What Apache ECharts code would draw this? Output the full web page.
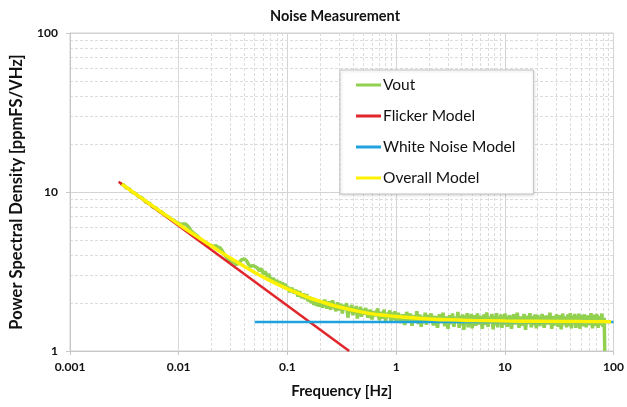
<!DOCTYPE html>
<html>
<head>
<meta charset="utf-8">
<script src="https://cdn.jsdelivr.net/npm/echarts@6/dist/echarts.min.js"></script>
<style>
  html, body { margin: 0; padding: 0; background: #fff; }
  #chart { width: 627px; height: 407px; }
</style>
</head>
<body>
<div id="chart"></div>
<script>
const voutFreq = [
  0.0029, 0.0031, 0.0033, 0.0035, 0.0037, 0.004, 0.0043, 0.0046, 0.005, 0.0054,
  0.0058, 0.0062, 0.0066, 0.007, 0.0075, 0.008, 0.0085, 0.009, 0.0095, 0.01,
  0.0105, 0.011, 0.0115, 0.012, 0.0125, 0.013, 0.014, 0.015, 0.016, 0.017,
  0.018, 0.019, 0.02, 0.021, 0.022, 0.023, 0.024, 0.025, 0.026, 0.027,
  0.028, 0.029, 0.03, 0.032, 0.034, 0.036, 0.038, 0.04, 0.042, 0.044,
  0.046, 0.048, 0.05,
  0.0525, 0.055, 0.0575, 0.06, 0.0625, 0.065, 0.0675, 0.07, 0.0725, 0.075,
  0.0775, 0.08, 0.0825, 0.085, 0.0875, 0.09, 0.0925, 0.095, 0.0975, 0.1,
  0.105, 0.11, 0.115, 0.12, 0.125, 0.13, 0.135, 0.14, 0.145, 0.15,
  0.155, 0.16, 0.165, 0.17, 0.175, 0.18, 0.185, 0.19, 0.195, 0.2,
  0.21, 0.22, 0.23, 0.24, 0.25, 0.26, 0.27, 0.28, 0.29, 0.3,
  0.31, 0.32, 0.33, 0.34, 0.35, 0.36, 0.37, 0.38, 0.39, 0.4,
  0.41, 0.42, 0.43, 0.44, 0.45, 0.46, 0.47, 0.48, 0.49, 0.5,
  0.525, 0.55, 0.575, 0.6, 0.625, 0.65, 0.675, 0.7, 0.725, 0.75,
  0.775, 0.8, 0.825, 0.85, 0.875, 0.9, 0.925, 0.95, 0.975, 1.0,
  1.05, 1.1, 1.15, 1.2, 1.25, 1.3, 1.35, 1.4, 1.45, 1.5,
  1.55, 1.6, 1.65, 1.7, 1.75, 1.8, 1.85, 1.9, 1.95, 2.0,
  2.1, 2.2, 2.3, 2.4, 2.5, 2.6, 2.7, 2.8, 2.9, 3.0,
  3.1, 3.2, 3.3, 3.4, 3.5, 3.6, 3.7, 3.8, 3.9, 4.0,
  4.1, 4.2, 4.3, 4.4, 4.5, 4.6, 4.7, 4.8, 4.9, 5.0,
  5.2, 5.4, 5.6, 5.8, 6.0, 6.2, 6.4, 6.6, 6.8, 7.0,
  7.2, 7.4, 7.6, 7.8, 8.0, 8.2, 8.4, 8.6, 8.8, 9.0,
  9.2, 9.4, 9.6, 9.8, 10,
  10.5, 11, 11.5, 12, 12.5, 13, 13.5, 14, 14.5, 15,
  15.5, 16, 16.5, 17, 17.5, 18, 18.5, 19, 19.5, 20,
  21, 22, 23, 24, 25, 26, 27, 28, 29, 30,
  31, 32, 33, 34, 35, 36, 37, 38, 39, 40,
  41, 42, 43, 44, 45, 46, 47, 48, 49, 50,
  52, 54, 56, 58, 60, 62, 64, 66, 68, 70,
  72, 74, 76, 78, 80, 82, 83
];
const voutPsd = [
  11.3, 11.1, 10.6, 10.5, 10.0, 9.8, 9.3, 9.2, 8.6, 8.5,
  8.0, 7.95, 7.55, 7.5, 7.1, 7.0, 6.7, 6.65, 6.45, 6.35,
  6.25, 6.3, 6.3, 6.15, 5.95, 5.7, 5.45, 5.25, 5.0, 4.85,
  4.7, 4.6, 4.6, 4.55, 4.6, 4.5, 4.45, 4.3, 4.1, 3.95,
  3.85, 3.75, 3.7, 3.6, 3.5, 3.6, 3.75, 3.8, 3.7, 3.5,
  3.4, 3.45, 3.4,
  3.35, 3.2, 3.3, 3.05, 3.15, 2.95, 3.05, 2.8, 2.75, 2.85,
  2.65, 2.8, 2.6, 2.75, 2.55, 2.7, 2.5, 2.65, 2.45, 2.55,
  2.35, 2.5, 2.3, 2.42, 2.2, 2.38, 2.15, 2.3, 2.12, 2.28,
  2.05, 2.2, 2.0, 2.18, 1.95, 2.12, 1.92, 2.1, 1.9, 2.08,
  1.88, 2.1, 1.85, 2.05, 1.82, 2.08, 1.9, 1.78, 2.02, 1.8,
  1.98, 1.72, 1.95, 1.82, 2.0, 1.62, 1.9, 1.75, 1.95, 1.68,
  1.88, 1.72, 1.92, 1.6, 1.85, 1.7, 1.9, 1.64, 1.84, 1.7,
  1.86, 1.62, 1.82, 1.58, 1.78, 1.66, 1.85, 1.56, 1.76, 1.6,
  1.82, 1.55, 1.74, 1.62, 1.8, 1.52, 1.75, 1.58, 1.78, 1.54,
  1.74, 1.5, 1.7, 1.46, 1.76, 1.55, 1.72, 1.44, 1.68, 1.52,
  1.78, 1.48, 1.7, 1.42, 1.66, 1.5, 1.74, 1.46, 1.69, 1.52,
  1.72, 1.45, 1.66, 1.4, 1.7, 1.5, 1.74, 1.43, 1.65, 1.38,
  1.68, 1.48, 1.72, 1.42, 1.64, 1.5, 1.76, 1.4, 1.67, 1.45,
  1.7, 1.36, 1.66, 1.47, 1.73, 1.41, 1.64, 1.5, 1.71, 1.39,
  1.68, 1.44, 1.72, 1.47, 1.66, 1.38, 1.7, 1.46, 1.75, 1.42,
  1.65, 1.5, 1.71, 1.37, 1.67, 1.45, 1.73, 1.41, 1.64, 1.49,
  1.7, 1.4, 1.66, 1.46, 1.72,
  1.42, 1.68, 1.38, 1.7, 1.47, 1.74, 1.4, 1.65, 1.44, 1.71,
  1.36, 1.67, 1.48, 1.73, 1.41, 1.66, 1.45, 1.7, 1.39, 1.68,
  1.44, 1.71, 1.4, 1.67, 1.47, 1.74, 1.38, 1.66, 1.45, 1.7,
  1.42, 1.68, 1.37, 1.72, 1.46, 1.65, 1.41, 1.7, 1.44, 1.73,
  1.39, 1.67, 1.47, 1.71, 1.4, 1.66, 1.45, 1.72, 1.38, 1.68,
  1.43, 1.7, 1.41, 1.67, 1.46, 1.73, 1.39, 1.69, 1.44, 1.71,
  1.4, 1.66, 1.45, 1.72, 1.42, 1.62, 1.0
];

// 1/f flicker fit
const flickerFreq = [0.0028, 0.37];
const flickerPsd = [11.6, 1.0];

// white noise floor
const whiteFreq = [0.05, 100];
const whitePsd = [1.52, 1.52];

// overall model curve
const overallFreq = [0.003, 0.004, 0.005, 0.007, 0.01, 0.015, 0.02, 0.03, 0.05, 0.07,
  0.1, 0.15, 0.2, 0.3, 0.5, 0.7, 1, 1.5, 2, 3, 5, 10, 20, 50, 95];
const overallPsd = [11.21, 9.74, 8.74, 7.43, 6.27, 5.2, 4.57, 3.83, 3.12, 2.76,
  2.46, 2.19, 2.05, 1.89, 1.75, 1.69, 1.65, 1.61, 1.59, 1.57, 1.555, 1.542, 1.536, 1.532, 1.53];

const xTickLabels = ['0.001', '0.01', '0.1', '1', '10', '100'];
const yTickLabels = ['1', '10', '100'];
const legendNames = ['Vout', 'Flicker Model', 'White Noise Model', 'Overall Model'];

function zip(xs, ys) {
  return xs.map((x, i) => [x, ys[i]]);
}

// dashed minor grid at 2..9 of each decade
const minorLines = [];
[0.001, 0.01, 0.1, 1, 10].forEach((d) => {
  for (let m = 2; m <= 9; m++) minorLines.push({ xAxis: d * m });
});
[1, 10].forEach((d) => {
  for (let m = 2; m <= 9; m++) minorLines.push({ yAxis: d * m });
});

const FONT = 'Lato';
const chart = echarts.init(document.getElementById('chart'));

chart.setOption({
  animation: false,
  textStyle: { fontFamily: FONT },
  title: {
    text: 'Noise Measurement',
    left: 270,
    top: 9,
    padding: 0,
    textStyle: { fontFamily: FONT, fontSize: 14.5, fontWeight: 'bold', color: '#111' },
  },
  grid: {
    left: 70,
    right: 11,
    top: 33,
    bottom: 56,
    show: true,
    borderColor: '#d0d0d0',
    borderWidth: 1,
  },
  legend: {
    data: legendNames,
    orient: 'vertical',
    left: 340,
    top: 70,
    z: 10,
    padding: [6, 18, 7, 16],
    itemGap: 13,
    itemWidth: 25,
    itemHeight: 3,
    icon: 'rect',
    backgroundColor: '#fff',
    borderColor: '#c4c4c4',
    borderWidth: 1,
    shadowColor: 'rgba(0,0,0,0.15)',
    shadowBlur: 3,
    shadowOffsetX: 1,
    shadowOffsetY: 1,
    textStyle: { fontFamily: FONT, fontSize: 15.5, color: '#111', lineHeight: 18, padding: [0, 0, 0, -3] },
  },
  xAxis: {
    type: 'log',
    logBase: 10,
    min: 0.001,
    max: 100,
    name: 'Frequency [Hz]',
    nameLocation: 'middle',
    nameGap: 33,
    nameTextStyle: { fontFamily: FONT, fontSize: 15, fontWeight: 'bold', color: '#111' },
    axisLine: { show: true, lineStyle: { color: '#c8c8c8' } },
    axisTick: { show: true, length: 4, lineStyle: { color: '#c8c8c8' } },
    axisLabel: {
      margin: 10,
      fontFamily: FONT,
      fontSize: 12,
      fontWeight: 'bold',
      color: '#111',
      formatter: (v, i) => xTickLabels[i],
    },
    splitLine: { show: true, lineStyle: { color: '#d4d4d4', width: 1 } },
  },
  yAxis: {
    type: 'log',
    logBase: 10,
    min: 1,
    max: 100,
    name: 'Power Spectral Density [ppmFS/VHz]',
    nameLocation: 'middle',
    nameGap: 45,
    nameTextStyle: { fontFamily: FONT, fontSize: 16.5, fontWeight: 'bold', color: '#111' },
    axisLine: { show: true, lineStyle: { color: '#c8c8c8' } },
    axisTick: { show: true, length: 4, lineStyle: { color: '#c8c8c8' } },
    axisLabel: {
      margin: 12,
      fontFamily: FONT,
      fontSize: 12,
      fontWeight: 'bold',
      color: '#111',
      formatter: (v, i) => yTickLabels[i],
    },
    splitLine: { show: true, lineStyle: { color: '#d4d4d4', width: 1 } },
  },
  series: [
    {
      name: 'grid-minor',
      type: 'line',
      data: [],
      silent: true,
      z: 0,
      markLine: {
        z: 0,
        silent: true,
        symbol: 'none',
        label: { show: false },
        animation: false,
        lineStyle: { color: '#dcdcdc', width: 1, type: [3, 2] },
        data: minorLines,
      },
    },
    {
      name: 'Vout',
      type: 'line',
      data: zip(voutFreq, voutPsd),
      showSymbol: false,
      symbol: 'none',
      lineStyle: { color: '#92D050', width: 3.5 },
      itemStyle: { color: '#92D050' },
      z: 2,
    },
    {
      name: 'Flicker Model',
      type: 'line',
      data: zip(flickerFreq, flickerPsd),
      symbol: 'none',
      lineStyle: { color: '#E0262B', width: 2.5 },
      itemStyle: { color: '#E0262B' },
      z: 3,
    },
    {
      name: 'White Noise Model',
      type: 'line',
      data: zip(whiteFreq, whitePsd),
      symbol: 'none',
      lineStyle: { color: '#1FA3DF', width: 2.5 },
      itemStyle: { color: '#1FA3DF' },
      z: 4,
    },
    {
      name: 'Overall Model',
      type: 'line',
      data: zip(overallFreq, overallPsd),
      symbol: 'none',
      smooth: true,
      lineStyle: { color: '#FFF200', width: 3.5 },
      itemStyle: { color: '#FFF200' },
      z: 5,
    },
  ],
});
</script>
</body>
</html>
